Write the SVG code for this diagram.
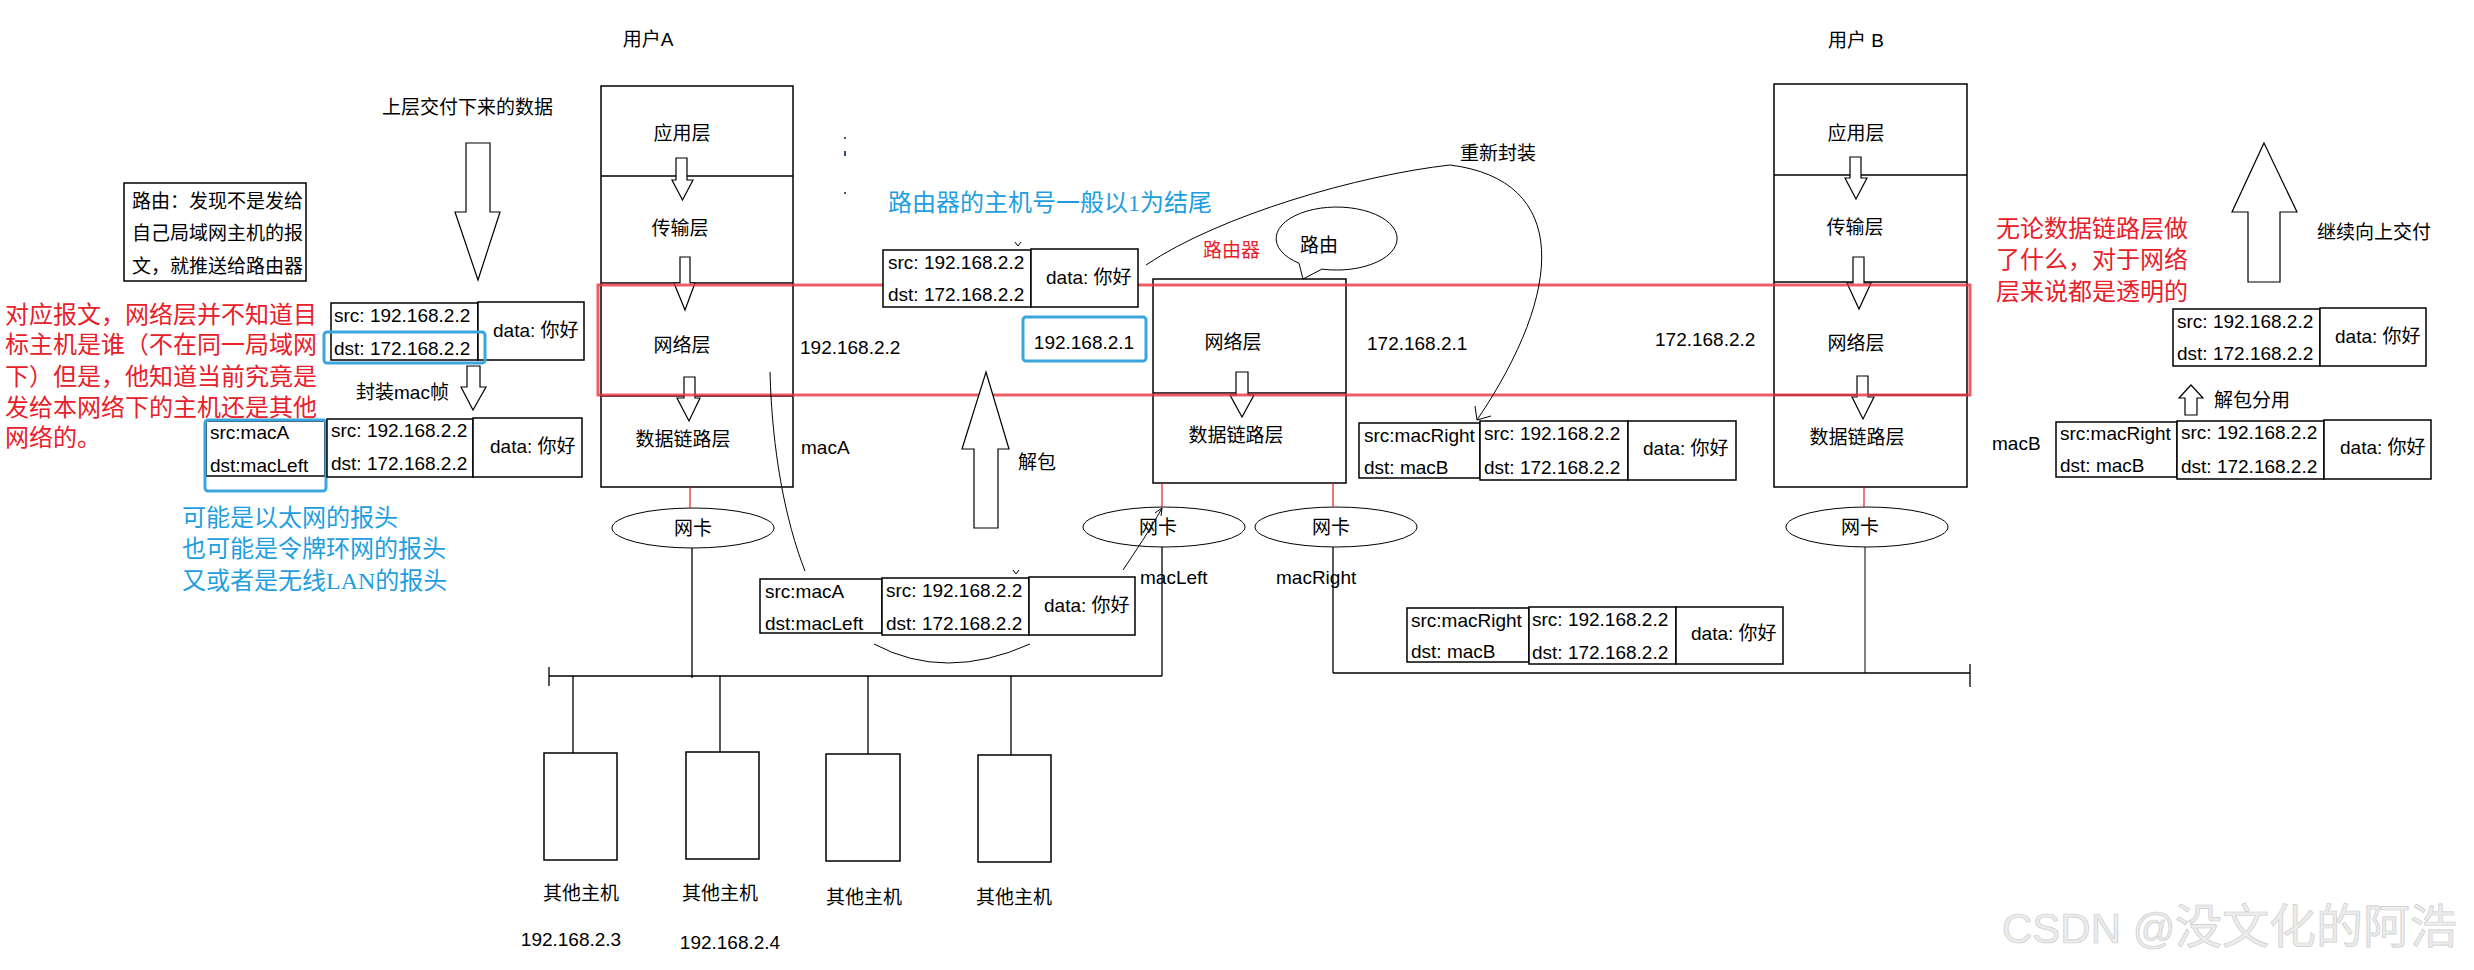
<svg xmlns="http://www.w3.org/2000/svg" width="2474" height="970" viewBox="0 0 2474 970">
<style>
.bg{fill:#fff}
.box{fill:#fff;stroke:#000;stroke-width:1.5}
.nb{fill:none;stroke:#000;stroke-width:1.5}
.ln{fill:none;stroke:#000;stroke-width:1.3}
.thin{fill:none;stroke:#000;stroke-width:1}
.rl{stroke:#e51c23;stroke-width:1.2}
.arr{fill:#fff;stroke:#000;stroke-width:1.2}
.t{font-family:"Liberation Sans","Noto Sans CJK SC",sans-serif;font-size:19px;fill:#000}
.c{text-anchor:middle}
.s{font-family:"Liberation Serif","Noto Sans CJK SC",serif;font-size:24px}
.red{fill:#e8202a}
.blue{fill:#1e9ee0}
.bbox{fill:none;stroke:#3aa6dc;stroke-width:3}
</style>
<rect class="bg" x="0" y="0" width="2474" height="970"/>

<g id="userA">
  <text class="t c" x="648" y="46">用户A</text>
  <rect class="box" x="601" y="86" width="192" height="401"/>
  <line class="ln" x1="601" y1="176" x2="793" y2="176"/>
  <line class="ln" x1="601" y1="283" x2="793" y2="283"/>
  <line class="ln" x1="601" y1="396" x2="793" y2="396"/>
  <text class="t c" x="682" y="140">应用层</text>
  <text class="t c" x="680" y="235">传输层</text>
  <text class="t c" x="682" y="352">网络层</text>
  <text class="t c" x="683" y="446">数据链路层</text>
  <polygon class="arr" points="676,158 687,158 687,180 693,180 682.5,200 672,180 676,180"/>
  <polygon class="arr" points="680,257 690,257 690,283 695,283 685,310 674,283 680,283"/>
  <polygon class="arr" points="684,377 695,377 695,398 700,398 689,421 677,398 684,398"/>
</g>

<g id="router">
  <rect class="box" x="1153" y="279" width="193" height="204"/>
  <line class="ln" x1="1153" y1="393" x2="1346" y2="393"/>
  <text class="t c" x="1233" y="349">网络层</text>
  <text class="t c" x="1236" y="442">数据链路层</text>
  <polygon class="arr" points="1236,372 1248,372 1248,395 1254,395 1242,417 1230,395 1236,395"/>
  <text class="t red" x="1203" y="257">路由器</text>
</g>

<g id="route-bubble">
  <path class="thin" d="M1299,263.2 A60.5,31.5 0 1 1 1322,269.1 L1303,279 Z" fill="#fff"/>
  <text class="t" x="1300" y="252">路由</text>
</g>

<g id="userB">
  <text class="t c" x="1856" y="47">用户 B</text>
  <rect class="box" x="1774" y="84" width="193" height="403"/>
  <line class="ln" x1="1774" y1="175" x2="1967" y2="175"/>
  <line class="ln" x1="1774" y1="282" x2="1967" y2="282"/>
  <line class="ln" x1="1774" y1="395" x2="1967" y2="395"/>
  <text class="t c" x="1856" y="140">应用层</text>
  <text class="t c" x="1855" y="234">传输层</text>
  <text class="t c" x="1856" y="350">网络层</text>
  <text class="t c" x="1857" y="444">数据链路层</text>
  <polygon class="arr" points="1850,157 1861,157 1861,178 1867,178 1856,199 1845,178 1850,178"/>
  <polygon class="arr" points="1853,257 1864,257 1864,283 1871,283 1859,309 1847,283 1853,283"/>
  <polygon class="arr" points="1857,376 1868,376 1868,397 1874,397 1863,419 1852,397 1857,397"/>
</g>

<g id="network-layer-frame">
  <rect x="598" y="285" width="1372" height="110" fill="none" stroke="#e8343f" stroke-opacity="0.8" stroke-width="3"/>
</g>

<g id="ip-labels">
  <text class="t" x="800" y="354">192.168.2.2</text>
  <rect class="bbox" x="1023" y="317" width="123" height="44" rx="3"/>
  <text class="t c" x="1084" y="349">192.168.2.1</text>
  <text class="t" x="1367" y="350">172.168.2.1</text>
  <text class="t" x="1655" y="346">172.168.2.2</text>
  <text class="t" x="801" y="454">macA</text>
  <text class="t" x="1992" y="450">macB</text>
  <text class="t" x="1140" y="584">macLeft</text>
  <text class="t" x="1276" y="584">macRight</text>
</g>

<g id="nics">
  <ellipse class="thin" cx="693" cy="528" rx="81" ry="20"/>
  <text class="t c" x="693" y="535">网卡</text>
  <ellipse class="thin" cx="1164" cy="527" rx="81" ry="20"/>
  <text class="t c" x="1158" y="534">网卡</text>
  <ellipse class="thin" cx="1336" cy="527" rx="81" ry="20"/>
  <text class="t c" x="1331" y="534">网卡</text>
  <ellipse class="thin" cx="1867" cy="527" rx="81" ry="20"/>
  <text class="t c" x="1860" y="534">网卡</text>
</g>

<g id="hosts">
  <rect class="box" x="544" y="753" width="73" height="107"/>
  <rect class="box" x="686" y="752" width="73" height="107"/>
  <rect class="box" x="826" y="754" width="74" height="107"/>
  <rect class="box" x="978" y="755" width="73" height="107"/>
  <text class="t c" x="581" y="900">其他主机</text>
  <text class="t c" x="720" y="900">其他主机</text>
  <text class="t c" x="864" y="904">其他主机</text>
  <text class="t c" x="1014" y="904">其他主机</text>
  <text class="t c" x="571" y="946">192.168.2.3</text>
  <text class="t c" x="730" y="949">192.168.2.4</text>
</g>

<g id="connectors">
  <line class="rl" x1="690" y1="487" x2="690" y2="508"/>
  <line class="rl" x1="1162" y1="483" x2="1162" y2="507"/>
  <line class="rl" x1="1333" y1="483" x2="1333" y2="507"/>
  <line class="rl" x1="1864" y1="487" x2="1864" y2="507"/>
  <line class="ln" x1="692" y1="548" x2="692" y2="678"/>
  <line class="ln" x1="549" y1="676" x2="1162" y2="676"/>
  <line class="ln" x1="549" y1="667" x2="549" y2="686"/>
  <line class="ln" x1="1162" y1="547" x2="1162" y2="676"/>
  <line class="ln" x1="1333" y1="547" x2="1333" y2="673"/>
  <line class="ln" x1="1333" y1="673" x2="1970" y2="673"/>
  <line class="ln" x1="1970" y1="664" x2="1970" y2="687"/>
  <line class="thin" x1="1865" y1="547" x2="1865" y2="673"/>
  <line class="ln" x1="573" y1="676" x2="573" y2="753"/>
  <line class="ln" x1="720" y1="676" x2="720" y2="752"/>
  <line class="ln" x1="868" y1="676" x2="868" y2="754"/>
  <line class="ln" x1="1011" y1="676" x2="1011" y2="755"/>
  <path class="thin" d="M1146,265 C1220,215 1360,175 1450,165 C1570,180 1565,290 1477,420"/>
  <path class="thin" d="M1475,406 L1477,420 L1491,416"/>
  <path class="thin" d="M770,372 C772,450 785,520 805,571"/>
  <path class="thin" d="M1123,570 C1135,552 1150,530 1162,508"/>
  <path class="thin" d="M1155,513 L1162,508 L1161,516"/>
  <path class="thin" d="M874,644 Q945,682 1030,644"/>
</g>

<g id="arrows">
  <polygon class="arr" points="466,143 490,143 490,212 500,212 478,280 455,212 466,212"/>
  <polygon class="arr" points="467,366 480,366 480,387 486,387 473,410 461,387 467,387"/>
  <polygon class="arr" points="986,372 1009,449 998,449 998,528 974,528 974,449 962,449"/>
  <polygon class="arr" points="2264,143 2297,212 2280,212 2280,282 2248,282 2248,212 2232,212"/>
  <polygon class="arr" points="2191,385 2203,398 2197,398 2197,415 2185,415 2185,398 2179,398"/>
  <text class="t" x="382" y="114">上层交付下来的数据</text>
  <text class="t" x="356" y="399">封装mac帧</text>
  <text class="t" x="1018" y="469">解包</text>
  <text class="t" x="2214" y="407">解包分用</text>
  <text class="t" x="2317" y="239">继续向上交付</text>
  <text class="t" x="1460" y="160">重新封装</text>
</g>

<g id="packet-host-ip">
  <rect class="box" x="331" y="303" width="147" height="57"/>
  <rect class="box" x="478" y="302" width="106" height="58"/>
  <text class="t" x="334" y="322">src: 192.168.2.2</text>
  <text class="t" x="334" y="355">dst: 172.168.2.2</text>
  <text class="t" x="493" y="337">data: 你好</text>
  <rect class="bbox" x="324" y="332" width="161" height="31" rx="3"/>
</g>

<g id="packet-host-frame">
  <rect class="box" x="206" y="421" width="119" height="55"/>
  <rect class="bbox" x="205" y="420" width="121" height="71" rx="3"/>
  <rect class="box" x="327" y="419" width="146" height="58"/>
  <rect class="box" x="473" y="418" width="109" height="59"/>
  <text class="t" x="210" y="439">src:macA</text>
  <text class="t" x="210" y="472">dst:macLeft</text>
  <text class="t" x="331" y="437">src: 192.168.2.2</text>
  <text class="t" x="331" y="470">dst: 172.168.2.2</text>
  <text class="t" x="490" y="453">data: 你好</text>
</g>

<g id="packet-router-ip">
  <rect class="box" x="883" y="250" width="148" height="57"/>
  <rect class="box" x="1031" y="249" width="107" height="58"/>
  <text class="t" x="888" y="269">src: 192.168.2.2</text>
  <text class="t" x="888" y="301">dst: 172.168.2.2</text>
  <text class="t" x="1046" y="284">data: 你好</text>
  <path class="thin" d="M1015,242 L1018,246 L1021,242"/>
</g>

<g id="packet-lan-left">
  <rect class="box" x="760" y="579" width="122" height="54"/>
  <rect class="box" x="882" y="578" width="147" height="57"/>
  <rect class="box" x="1029" y="577" width="106" height="58"/>
  <text class="t" x="765" y="598">src:macA</text>
  <text class="t" x="765" y="630">dst:macLeft</text>
  <text class="t" x="886" y="597">src: 192.168.2.2</text>
  <text class="t" x="886" y="630">dst: 172.168.2.2</text>
  <text class="t" x="1044" y="612">data: 你好</text>
  <path class="thin" d="M1013,570 L1016,574 L1019,570"/>
</g>

<g id="packet-router-frame">
  <rect class="box" x="1359" y="423" width="121" height="55"/>
  <rect class="box" x="1480" y="421" width="148" height="59"/>
  <rect class="box" x="1628" y="421" width="108" height="59"/>
  <text class="t" x="1364" y="442">src:macRight</text>
  <text class="t" x="1364" y="474">dst: macB</text>
  <text class="t" x="1484" y="440">src: 192.168.2.2</text>
  <text class="t" x="1484" y="474">dst: 172.168.2.2</text>
  <text class="t" x="1643" y="455">data: 你好</text>
</g>

<g id="packet-lan-right">
  <rect class="box" x="1407" y="608" width="122" height="54"/>
  <rect class="box" x="1529" y="607" width="147" height="57"/>
  <rect class="box" x="1676" y="607" width="107" height="57"/>
  <text class="t" x="1411" y="627">src:macRight</text>
  <text class="t" x="1411" y="658">dst: macB</text>
  <text class="t" x="1532" y="626">src: 192.168.2.2</text>
  <text class="t" x="1532" y="659">dst: 172.168.2.2</text>
  <text class="t" x="1691" y="640">data: 你好</text>
</g>

<g id="packet-b-frame">
  <rect class="box" x="2056" y="422" width="121" height="55"/>
  <rect class="box" x="2177" y="421" width="147" height="58"/>
  <rect class="box" x="2324" y="420" width="107" height="59"/>
  <text class="t" x="2060" y="440">src:macRight</text>
  <text class="t" x="2060" y="472">dst: macB</text>
  <text class="t" x="2181" y="439">src: 192.168.2.2</text>
  <text class="t" x="2181" y="473">dst: 172.168.2.2</text>
  <text class="t" x="2340" y="454">data: 你好</text>
</g>

<g id="packet-b-ip">
  <rect class="box" x="2173" y="309" width="147" height="57"/>
  <rect class="box" x="2320" y="308" width="106" height="58"/>
  <text class="t" x="2177" y="328">src: 192.168.2.2</text>
  <text class="t" x="2177" y="360">dst: 172.168.2.2</text>
  <text class="t" x="2335" y="343">data: 你好</text>
</g>

<g id="note-route">
  <rect class="box" x="124" y="183" width="182" height="98"/>
  <text class="t" x="132" y="208">路由：发现不是发给</text>
  <text class="t" x="132" y="240">自己局域网主机的报</text>
  <text class="t" x="132" y="273">文，就推送给路由器</text>
</g>

<g id="note-red-left">
  <text class="s red" x="5" y="323">对应报文，网络层并不知道目</text>
  <text class="s red" x="5" y="353">标主机是谁（不在同一局域网</text>
  <text class="s red" x="5" y="385">下）但是，他知道当前究竟是</text>
  <text class="s red" x="5" y="416">发给本网络下的主机还是其他</text>
  <text class="s red" x="5" y="446">网络的。</text>
</g>

<g id="note-blue-left">
  <text class="s blue" x="182" y="526">可能是以太网的报头</text>
  <text class="s blue" x="182" y="557">也可能是令牌环网的报头</text>
  <text class="s blue" x="182" y="589">又或者是无线LAN的报头</text>
</g>

<g id="note-blue-router">
  <text class="s blue" x="888" y="211">路由器的主机号一般以1为结尾</text>
  <rect x="844" y="137" width="2" height="2" fill="#555"/>
  <rect x="844" y="151" width="2" height="5" fill="#3a4a7a"/>
  <rect x="844" y="192" width="2" height="2" fill="#555"/>
</g>

<g id="note-red-right">
  <text class="s red" x="1996" y="237">无论数据链路层做</text>
  <text class="s red" x="1996" y="268">了什么，对于网络</text>
  <text class="s red" x="1996" y="300">层来说都是透明的</text>
</g>

<g id="watermark">
  <text x="2002" y="943" style="font-family:'Liberation Sans','Noto Sans CJK SC',sans-serif;font-size:42px;fill:#ececec;stroke:#cdcdcd;stroke-width:0.7">CSDN @<tspan x="2175" style="font-size:47px">没文化的阿浩</tspan></text>
</g>
</svg>
